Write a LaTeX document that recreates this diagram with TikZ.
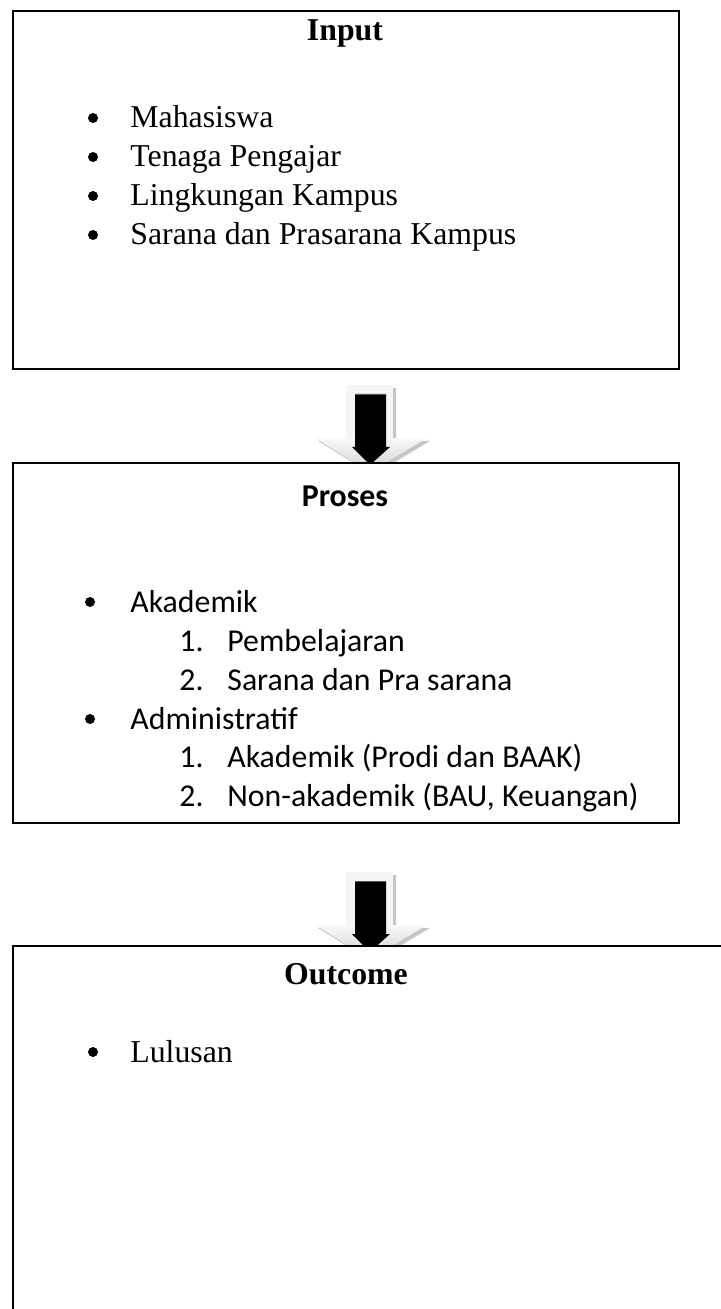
\documentclass[tikz,border=0pt]{standalone}
\usepackage{fontspec}
\setmainfont{Liberation Serif}
\newfontfamily\calibrifont{Carlito}
\begin{document}
\begin{tikzpicture}[x=0.5pt,y=-0.5pt,
  box/.style={draw, line width=1pt, fill=white, anchor=north west, inner sep=0},
  bul/.style={circle, fill=black, inner sep=0, minimum size=5pt},
  itemT/.style={anchor=base west, inner sep=0, font=\fontsize{15.9}{18}\selectfont},
  itemC/.style={anchor=base west, inner sep=0, font=\calibrifont\fontsize{15.9}{18}\selectfont},
  titleT/.style={anchor=base, inner sep=0, font=\bfseries\fontsize{15.9}{18}\selectfont},
  titleC/.style={anchor=base, inner sep=0, font=\calibrifont\bfseries\fontsize{15.9}{18}\selectfont}
]
\useasboundingbox (0,0) rectangle (720,1309);
\newcommand\blockarrow[1]{%
  \begin{scope}[shift={(0,#1)}]
    % shadow
    \fill[gray!45] (349,388) -- (396,388) -- (396,441) -- (430,441) -- (373,475) -- (318,441) -- (349,441) -- cycle;
    % outer light arrow
    \fill[gray!8] (346,385) -- (393,385) -- (393,438) -- (346,438) -- cycle;
    \shade[top color=gray!5, bottom color=gray!35] (315,438) -- (427,438) -- (370,472) -- cycle;
    % inner black arrow
    \fill[black] (355,394) -- (386,394) -- (386,447) -- (390,447) -- (370,465) -- (352,447) -- (355,447) -- cycle;
    \draw[gray!70!black, line width=0.6pt] (355,394.5) -- (386,394.5);
  \end{scope}}
% Input box
\node[box, minimum width=333pt, minimum height=179pt] (input) at (12,10) {};
\node[titleT] (tin) at (345,41) {Input};
\node[bul] (b1) at (93,118) {};
\node[itemT] (i1) at (130,128) {Mahasiswa};
\node[bul] (b2) at (93,157) {};
\node[itemT] (i2) at (130,167) {Tenaga Pengajar};
\node[bul] (b3) at (93,196) {};
\node[itemT] (i3) at (130,206) {Lingkungan Kampus};
\node[bul] (b4) at (93,235) {};
\node[itemT] (i4) at (130,245) {Sarana dan Prasarana Kampus};
% arrow 1
\blockarrow{0}
% Proses box
\node[box, minimum width=333pt, minimum height=180pt] (proses) at (12,462) {};
\node[titleC] (tpr) at (345,506) {Proses};
\node[bul] (c1) at (90,602) {};
\node[itemC] (p1) at (130,612) {Akademik};
\node[itemC] (p1n) at (179,651) {1.};
\node[itemC] (p1t) at (227,651) {Pembelajaran};
\node[itemC] (p2n) at (179,690) {2.};
\node[itemC] (p2t) at (227,690) {Sarana dan Pra sarana};
\node[bul] (c2) at (90,719) {};
\node[itemC] (p2) at (130,729) {Administratif};
\node[itemC] (p3n) at (179,767) {1.};
\node[itemC] (p3t) at (227,767) {Akademik (Prodi dan BAAK)};
\node[itemC] (p4n) at (179,806) {2.};
\node[itemC] (p4t) at (227,806) {Non-akademik (BAU, Keuangan)};
% arrow 2
\blockarrow{487}
% Outcome box
\node[box, minimum width=360pt, minimum height=200pt] (outcome) at (12,945) {};
\node[titleT] (tout) at (346,984) {Outcome};
\node[bul] (d1) at (93,1052) {};
\node[itemT] (o1) at (130,1062) {Lulusan};
\end{tikzpicture}
\end{document}
